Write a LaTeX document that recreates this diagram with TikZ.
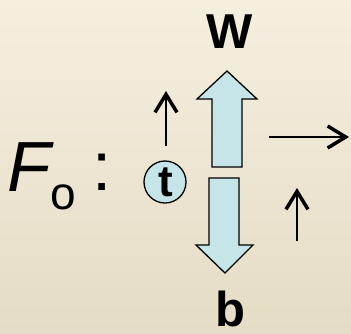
\documentclass[tikz,border=0pt]{standalone}
\usepackage{fontspec}
\setmainfont{Liberation Sans}
\usetikzlibrary{arrows.meta}

\definecolor{bgtop}{RGB}{244,239,223}
\definecolor{bgbot}{RGB}{229,220,197}
\definecolor{ice}{RGB}{197,229,232}

\begin{document}
\begin{tikzpicture}[
  x=1pt, y=-1pt,
  >={Straight Barb[length=18pt, width=22pt, line width=3.5pt]},
  thin arrow/.style={->, line width=1.8pt},
  block arrow/.style={draw, fill=ice, line width=1.3pt, line join=miter},
  label/.style={inner sep=0pt, font=\bfseries\fontsize{49}{49}\selectfont}
  ]

  % --- background ---
  \shade [top color=bgtop, bottom color=bgbot] (0,0) rectangle (351,333);
  \useasboundingbox (0,0) rectangle (351,333);

  % --- F_o : ---
  \node [inner sep=0pt, anchor=base west, font=\itshape\fontsize{71}{71}\selectfont] (F) at (7,191) {F};
  \node [inner sep=0pt, anchor=base west, font=\fontsize{46}{46}\selectfont] (o) at (50,209) {o};
  \node [inner sep=0pt, anchor=base west, font=\fontsize{69}{69}\selectfont] (colon) at (92.5,190) {:};

  % --- t im Kreis ---
  \node [circle, draw, fill=ice, line width=1.3pt, minimum size=42pt, inner sep=0pt] (t) at (165,182) {};
  \node [inner sep=0pt, anchor=base, font=\bfseries\fontsize{44}{44}\selectfont] (tlabel) at (166,196) {t};

  % --- Blockpfeile ---
  \draw [block arrow] (212,167) -- (212,99) -- (197,99) -- (227,71) -- (257,99)
        -- (242,99) -- (242,167) -- cycle;
  \draw [block arrow] (209,178) -- (239,178) -- (239,245) -- (253,245) -- (225,273)
        -- (196,245) -- (209,245) -- cycle;
  \node [label, anchor=base] (W) at (230,48) {W};
  \node [label, anchor=base] (b) at (230,326) {b};

  % --- kleine Pfeile ---
  \coordinate (a1s) at (166,146);
  \coordinate (a1e) at (166,91);
  \coordinate (a2s) at (269,137);
  \coordinate (a2e) at (349,137);
  \coordinate (a3s) at (297,241);
  \coordinate (a3e) at (297,188);
  \draw [thin arrow] (a1s) -- (a1e);
  \draw [thin arrow] (a2s) -- (a2e);
  \draw [thin arrow] (a3s) -- (a3e);

\end{tikzpicture}
\end{document}
